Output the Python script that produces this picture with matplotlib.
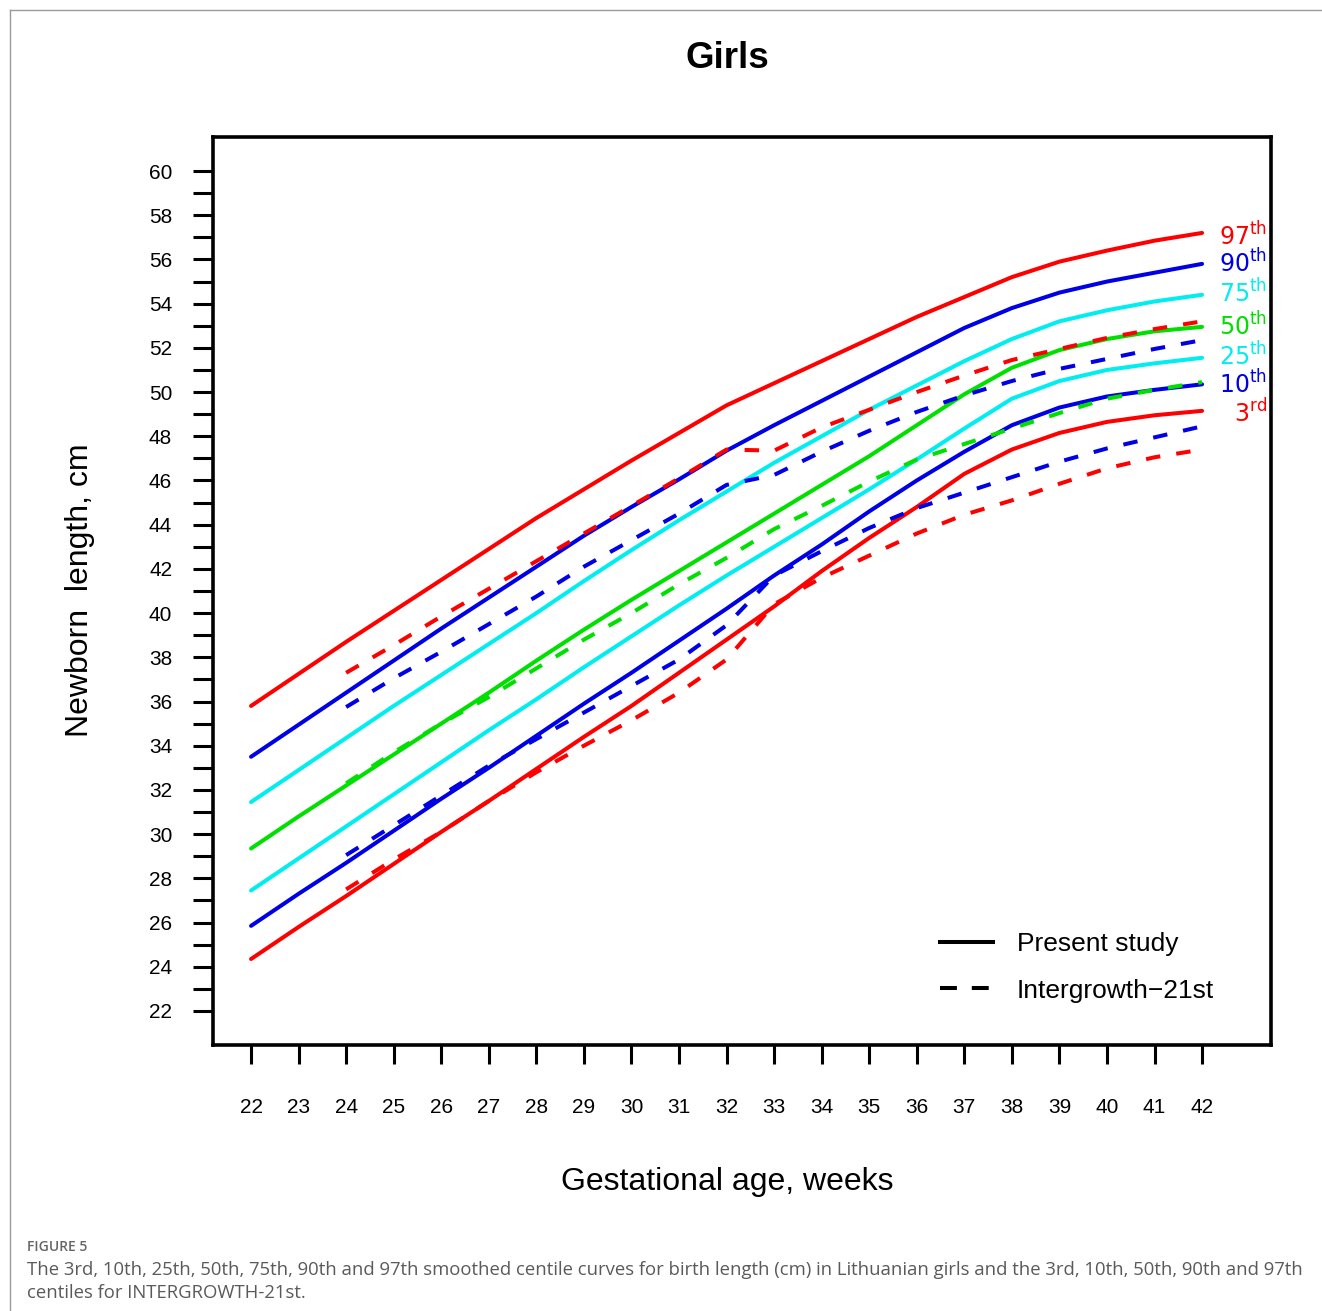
import matplotlib
matplotlib.use("Agg")
import matplotlib.pyplot as plt
from matplotlib.lines import Line2D
from matplotlib.ticker import FixedLocator

plt.rcParams['font.family'] = ['Liberation Sans', 'DejaVu Sans']

# gestational weeks
weeks = list(range(22, 43))
ig_weeks = list(range(24, 43))

# present study, smoothed centiles (cm)
study_p97 = [35.8, 37.25, 38.7, 40.1, 41.5, 42.9, 44.3, 45.6, 46.9, 48.15, 49.4,
             50.4, 51.4, 52.4, 53.4, 54.3, 55.2, 55.9, 56.4, 56.85, 57.2]
study_p90 = [33.5, 34.95, 36.4, 37.85, 39.3, 40.7, 42.1, 43.5, 44.8, 46.05, 47.35,
             48.5, 49.6, 50.7, 51.8, 52.9, 53.8, 54.5, 55.0, 55.4, 55.8]
study_p75 = [31.45, 32.9, 34.35, 35.8, 37.2, 38.6, 40.0, 41.45, 42.85, 44.2, 45.5,
             46.8, 48.0, 49.2, 50.3, 51.4, 52.4, 53.2, 53.7, 54.1, 54.4]
study_p50 = [29.35, 30.8, 32.2, 33.6, 35.0, 36.4, 37.85, 39.25, 40.6, 41.9, 43.2,
             44.5, 45.8, 47.1, 48.5, 49.9, 51.1, 51.9, 52.4, 52.75, 52.95]
study_p25 = [27.45, 28.9, 30.35, 31.8, 33.25, 34.7, 36.1, 37.55, 38.95, 40.35, 41.7,
             43.0, 44.3, 45.6, 46.95, 48.35, 49.7, 50.5, 51.0, 51.3, 51.55]
study_p10 = [25.85, 27.3, 28.7, 30.15, 31.6, 33.0, 34.45, 35.9, 37.3, 38.75, 40.2,
             41.7, 43.1, 44.6, 46.0, 47.3, 48.5, 49.3, 49.8, 50.1, 50.35]
study_p3 = [24.35, 25.8, 27.2, 28.65, 30.1, 31.5, 32.95, 34.4, 35.8, 37.3, 38.8,
            40.3, 41.9, 43.4, 44.8, 46.3, 47.4, 48.15, 48.65, 48.95, 49.15]

# INTERGROWTH-21st centiles (cm), weeks 24-42
ig_p97 = [37.3, 38.55, 39.85, 41.1, 42.35, 43.6, 44.85, 46.1, 47.4, 47.35,
          48.4, 49.2, 50.0, 50.75, 51.45, 51.95, 52.45, 52.85, 53.2]
ig_p90 = [35.75, 37.05, 38.25, 39.5, 40.75, 42.1, 43.3, 44.5, 45.8, 46.25,
          47.3, 48.25, 49.1, 49.85, 50.5, 51.05, 51.5, 51.95, 52.35]
ig_p50 = [32.3, 33.7, 35.0, 36.2, 37.5, 38.8, 40.0, 41.3, 42.5, 43.8,
          44.85, 45.95, 46.95, 47.65, 48.35, 49.05, 49.7, 50.1, 50.45]
ig_p10 = [29.05, 30.4, 31.75, 33.1, 34.3, 35.5, 36.7, 37.9, 39.45, 41.7,
          42.8, 43.85, 44.75, 45.45, 46.15, 46.85, 47.45, 47.95, 48.45]
ig_p3 = [27.5, 28.85, 30.1, 31.5, 32.8, 34.0, 35.15, 36.4, 37.9, 40.4,
         41.6, 42.6, 43.6, 44.45, 45.1, 45.85, 46.55, 47.05, 47.4]

RED = "#ff0000"
BLUE = "#0000e6"
CYAN = "#00eef0"
GREEN = "#00e000"

study_curves = [
    (study_p97, RED), (study_p90, BLUE), (study_p75, CYAN), (study_p50, GREEN),
    (study_p25, CYAN), (study_p10, BLUE), (study_p3, RED),
]
ig_curves = [
    (ig_p97, RED), (ig_p90, BLUE), (ig_p50, GREEN), (ig_p10, BLUE), (ig_p3, RED),
]

# right-hand centile labels: text, colour, baseline pixel
centile_labels = [
    ("97", "th", RED, 245), ("90", "th", BLUE, 272), ("75", "th", CYAN, 302),
    ("50", "th", GREEN, 335), ("25", "th", CYAN, 365), ("10", "th", BLUE, 393),
    ("3", "rd", RED, 422),
]

W, H = 1322, 1311
fig = plt.figure(figsize=(W / 100, H / 100), dpi=100)
ax = fig.add_axes([213 / W, 1 - 1045 / H, (1271 - 213) / W, (1045 - 137) / H])

LW = 2.9
for vals, col in study_curves:
    ax.plot(weeks, vals, color=col, lw=LW, solid_capstyle='round', zorder=2)
for vals, col in ig_curves:
    ax.plot(ig_weeks, vals, color=col, lw=LW, dashes=(3.6, 4.0),
            dash_capstyle='butt', zorder=3)

ax.set_xlim(21.2, 43.45)
ax.set_ylim(20.46, 61.54)
ax.set_xticks(weeks)
ax.set_yticks(list(range(22, 61, 2)))
ax.yaxis.set_minor_locator(FixedLocator(list(range(23, 60, 2))))

for s in ax.spines.values():
    s.set_linewidth(2.6)
ax.tick_params(axis='y', which='both', length=14.4, width=2.2, pad=15, labelsize=15)
ax.tick_params(axis='x', which='both', length=14, width=2.2, pad=24, labelsize=15)

fig.text(727 / W, 1 - 1182 / H, "Gestational age, weeks", fontsize=23,
         ha='center', va='center')
fig.text(80 / W, 1 - 590 / H, "Newborn  length, cm", fontsize=23,
         rotation=90, ha='center', va='center')
fig.text(727 / W, 1 - 58 / H, "Girls", fontsize=26.5, fontweight='bold',
         ha='center', va='center')

for num, sup, col, yb in centile_labels:
    fig.text(1267 / W, 1 - yb / H, num + r"$^{\mathrm{" + sup + "}}$",
             color=col, fontsize=17, family='DejaVu Sans', ha='right', va='baseline')

handles = [Line2D([], [], color='black', lw=LW),
           Line2D([], [], color='black', lw=LW, dashes=(4.2, 3.7))]
ax.legend(handles, ["Present study", "Intergrowth\u221221st"], loc='center left',
          bbox_to_anchor=(940 / W, 1 - 967.5 / H), bbox_transform=fig.transFigure,
          frameon=False, fontsize=19, handlelength=2.0, handletextpad=0.9,
          labelspacing=0.85, borderpad=0, borderaxespad=0)

# page frame and caption
fig.add_artist(Line2D([10 / W, 1], [1 - 10 / H, 1 - 10 / H], color='#9a9a9a', lw=1))
fig.add_artist(Line2D([10 / W, 10 / W], [0, 1 - 10 / H], color='#9a9a9a', lw=1))
fig.text(27 / W, 1 - 1247 / H, "FIGURE 5", fontsize=10, color='#666666',
         family='Open Sans', fontweight='semibold', va='center')
fig.text(27 / W, 1 - 1270 / H,
         "The 3rd, 10th, 25th, 50th, 75th, 90th and 97th smoothed centile curves for birth "
         "length (cm) in Lithuanian girls and the 3rd, 10th, 50th, 90th and 97th",
         fontsize=13.35, color='#5a5a5a', family='Open Sans', va='center')
fig.text(27 / W, 1 - 1293 / H, "centiles for INTERGROWTH-21st.",
         fontsize=13.35, color='#5a5a5a', family='Open Sans', va='center')

fig.savefig("out.png", dpi=100)
